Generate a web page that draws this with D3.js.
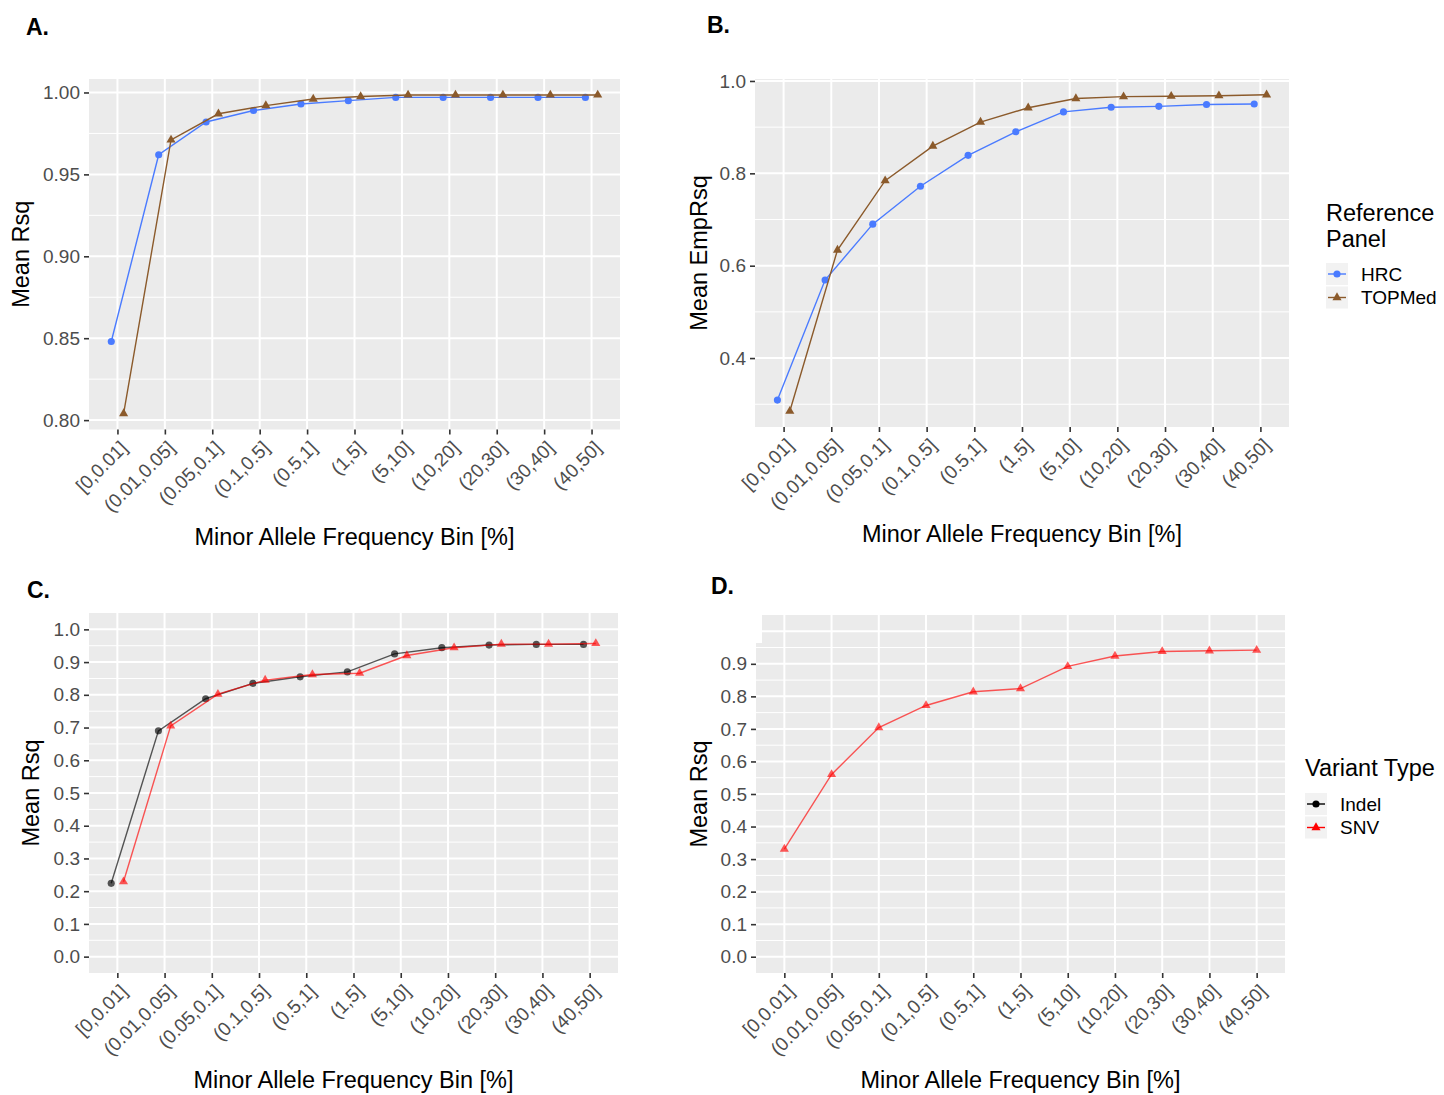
<!DOCTYPE html>
<meta charset="utf-8">
<script src="https://d3js.org/d3.v7.min.js"></script>
<style>
  body { margin: 0; background: #fff; }
  text { font-family: "Liberation Sans", Arial, sans-serif; }
</style>
<div id="chart"></div>
<script>

// MAF bins (x categories)
const bins = ["[0,0.01]", "(0.01,0.05]", "(0.05,0.1]", "(0.1,0.5]", "(0.5,1]", "(1,5]",
              "(5,10]", "(10,20]", "(20,30]", "(30,40]", "(40,50]"];

// panel A: mean Rsq by reference panel
const hrcRsq    = [0.848, 0.962, 0.982, 0.989, 0.993, 0.995, 0.997, 0.997, 0.997, 0.997, 0.997];
const topmedRsq = [0.804, 0.971, 0.987, 0.992, 0.996, 0.9975, 0.9985, 0.9985, 0.9985, 0.9985, 0.9985];

// panel B: mean EmpRsq by reference panel
const hrcEmpRsq    = [0.309, 0.569, 0.690, 0.772, 0.839, 0.890, 0.933, 0.943, 0.945, 0.949, 0.950];
const topmedEmpRsq = [0.285, 0.634, 0.784, 0.859, 0.911, 0.942, 0.962, 0.966, 0.967, 0.968, 0.970];

// panel C: mean Rsq by variant type
const indelRsq = [0.224, 0.690, 0.788, 0.835, 0.855, 0.870, 0.925, 0.944, 0.952, 0.954, 0.954];
const snvRsq   = [0.229, 0.705, 0.802, 0.845, 0.862, 0.866, 0.920, 0.944, 0.955, 0.955, 0.957];

// panel D: SNV only
const snvOnlyRsq = [0.331, 0.560, 0.704, 0.772, 0.814, 0.824, 0.892, 0.924, 0.938, 0.940, 0.942];

// y tick values
const ticksA = [0.80, 0.85, 0.90, 0.95, 1.00];
const ticksB = [0.4, 0.6, 0.8, 1.0];
const ticksCD = [0.0, 0.1, 0.2, 0.3, 0.4, 0.5, 0.6, 0.7, 0.8, 0.9, 1.0];

const xTitle = "Minor Allele Frequency Bin [%]";

const svg = d3.select("#chart")
    .append("svg")
    .attr("width", 1444)
    .attr("height", 1095);

// ggplot style: 5% expansion of the data range
function expand(lo, hi) {
    const pad = (hi - lo) * 0.05;
    return [lo - pad, hi + pad];
}

function marker(shape) {
    return shape === "triangle"
        ? d3.symbol(d3.symbolTriangle, 36)()
        : d3.symbol(d3.symbolCircle, 40)();
}

function drawPanel(p) {
    const g = svg.append("g");

    const x = d3.scalePoint()
        .domain(bins)
        .range([p.left, p.right])
        .padding(0.6);
    const y = d3.scaleLinear()
        .domain(p.yDomain)
        .range([p.bottom, p.top]);

    // grey panel
    g.append("rect")
        .attr("x", p.left).attr("y", p.top)
        .attr("width", p.right - p.left).attr("height", p.bottom - p.top)
        .attr("fill", "#EBEBEB");

    // minor grid (halfway between majors)
    const step = p.ticks[1] - p.ticks[0];
    const minor = d3.range(p.ticks[0] - step / 2, p.yDomain[1], step)
        .filter(v => v > p.yDomain[0] && v < p.yDomain[1]);
    g.selectAll(".minor").data(minor).join("line")
        .attr("x1", p.left).attr("x2", p.right)
        .attr("y1", d => y(d)).attr("y2", d => y(d))
        .attr("stroke", "#fff").attr("stroke-width", 1);

    // major grid
    g.selectAll(".majorY").data(p.ticks).join("line")
        .attr("x1", p.left).attr("x2", p.right)
        .attr("y1", d => y(d)).attr("y2", d => y(d))
        .attr("stroke", "#fff").attr("stroke-width", 2);
    g.selectAll(".majorX").data(bins).join("line")
        .attr("x1", d => x(d)).attr("x2", d => x(d))
        .attr("y1", p.top).attr("y2", p.bottom)
        .attr("stroke", "#fff").attr("stroke-width", 2);

    // y axis
    const yAxis = g.append("g")
        .attr("transform", `translate(${p.left},0)`)
        .call(d3.axisLeft(y).tickValues(p.ticks).tickFormat(d3.format(p.fmt)).tickSize(5).tickPadding(4));
    yAxis.select(".domain").remove();
    yAxis.selectAll("line").attr("stroke", "#333").attr("stroke-width", 1.6);
    yAxis.selectAll("text").attr("fill", "#4D4D4D").style("font-size", "19px");

    // x axis, rotated labels
    const xAxis = g.append("g")
        .attr("transform", `translate(0,${p.bottom})`)
        .call(d3.axisBottom(x).tickSize(5).tickPadding(4));
    xAxis.select(".domain").remove();
    xAxis.selectAll("line").attr("stroke", "#333").attr("stroke-width", 1.6);
    xAxis.selectAll("text")
        .attr("fill", "#4D4D4D")
        .style("font-size", "19px")
        .attr("text-anchor", "end")
        .attr("dy", "0.71em")
        .attr("transform", "translate(1,10) rotate(-45)")
        .attr("y", 0).attr("x", 0);

    // series
    p.series.forEach(s => {
        const px = (d, i) => x(bins[i]) + s.dodge * x.step();
        g.append("path")
            .datum(s.values)
            .attr("d", d3.line().x(px).y(d => y(d)))
            .attr("fill", "none")
            .attr("stroke", s.color)
            .attr("stroke-width", 1.4)
            .attr("opacity", s.opacity);
        g.selectAll(null).data(s.values).join("path")
            .attr("transform", (d, i) => `translate(${px(d, i)},${y(d)})`)
            .attr("d", marker(s.shape))
            .attr("fill", s.color)
            .attr("opacity", s.opacity);
    });

    // axis titles
    g.append("text")
        .attr("x", (p.left + p.right) / 2).attr("y", p.bottom + 115)
        .attr("text-anchor", "middle")
        .style("font-size", "23.5px")
        .text(xTitle);
    g.append("text")
        .attr("transform", `translate(${p.yTitleX},${(p.top + p.bottom) / 2}) rotate(-90)`)
        .attr("text-anchor", "middle")
        .attr("dy", "0.35em")
        .style("font-size", "23.5px")
        .text(p.yTitle);

    // panel letter
    svg.append("text")
        .attr("x", p.tagX).attr("y", p.tagY)
        .style("font-size", "23px").style("font-weight", "bold")
        .text(p.tag);
}

function drawLegend(l) {
    const g = svg.append("g");
    l.title.forEach((t, i) => {
        g.append("text")
            .attr("x", l.x).attr("y", l.titleY + i * 26)
            .style("font-size", "23.5px")
            .text(t);
    });
    l.series.forEach((s, i) => {
        const ky = l.keyY + i * 23.5;
        g.append("rect")
            .attr("x", l.x).attr("y", ky)
            .attr("width", 22).attr("height", 22)
            .attr("fill", "#F2F2F2");
        g.append("line")
            .attr("x1", l.x + 2).attr("x2", l.x + 20)
            .attr("y1", ky + 11).attr("y2", ky + 11)
            .attr("stroke", s.keyColor).attr("stroke-width", 1.4);
        g.append("path")
            .attr("transform", `translate(${l.x + 11},${ky + 11})`)
            .attr("d", marker(s.shape))
            .attr("fill", s.keyColor);
        g.append("text")
            .attr("x", l.x + 35).attr("y", ky + 11)
            .attr("dy", "0.35em")
            .style("font-size", "19px")
            .text(s.name);
    });
}

const blue = "#4A7BFF", brown = "#8B5A2B";

drawPanel({
    tag: "A.", tagX: 26, tagY: 35,
    left: 89, right: 620, top: 79, bottom: 429.5,
    yDomain: expand(d3.min(topmedRsq.concat(hrcRsq)), d3.max(topmedRsq.concat(hrcRsq))),
    ticks: ticksA, fmt: ".2f", yTitle: "Mean Rsq", yTitleX: 21,
    series: [
        {values: hrcRsq, color: blue, shape: "circle", dodge: -0.13, opacity: 1},
        {values: topmedRsq, color: brown, shape: "triangle", dodge: 0.13, opacity: 1}
    ]
});

drawPanel({
    tag: "B.", tagX: 707, tagY: 33,
    left: 755, right: 1289, top: 79, bottom: 427,
    yDomain: expand(d3.min(topmedEmpRsq.concat(hrcEmpRsq)), d3.max(topmedEmpRsq.concat(hrcEmpRsq))),
    ticks: ticksB, fmt: ".1f", yTitle: "Mean EmpRsq", yTitleX: 699,
    series: [
        {values: hrcEmpRsq, color: blue, shape: "circle", dodge: -0.13, opacity: 1},
        {values: topmedEmpRsq, color: brown, shape: "triangle", dodge: 0.13, opacity: 1}
    ]
});

drawPanel({
    tag: "C.", tagX: 27, tagY: 598,
    left: 89, right: 618, top: 613, bottom: 973,
    yDomain: expand(0, 1),
    ticks: ticksCD, fmt: ".1f", yTitle: "Mean Rsq", yTitleX: 31,
    series: [
        {values: indelRsq, color: "#000", shape: "circle", dodge: -0.13, opacity: 0.65},
        {values: snvRsq, color: "#FF0000", shape: "triangle", dodge: 0.13, opacity: 0.65}
    ]
});

drawPanel({
    tag: "D.", tagX: 711, tagY: 594,
    left: 756, right: 1285, top: 615, bottom: 973,
    yDomain: expand(0, 1),
    ticks: ticksCD, fmt: ".1f", yTitle: "Mean Rsq", yTitleX: 699,
    series: [
        {values: snvOnlyRsq, color: "#FF0000", shape: "triangle", dodge: 0, opacity: 0.65}
    ]
});

// white patch over the top-left corner of panel D, as in the source figure
svg.append("rect")
    .attr("x", 700).attr("y", 604)
    .attr("width", 62).attr("height", 39)
    .attr("fill", "#fff");

drawLegend({
    x: 1326, titleY: 221, keyY: 263, title: ["Reference", "Panel"],
    series: [
        {name: "HRC", keyColor: blue, shape: "circle"},
        {name: "TOPMed", keyColor: brown, shape: "triangle"}
    ]
});

drawLegend({
    x: 1305, titleY: 776, keyY: 793, title: ["Variant Type"],
    series: [
        {name: "Indel", keyColor: "#000", shape: "circle"},
        {name: "SNV", keyColor: "#FF0000", shape: "triangle"}
    ]
});

</script>
